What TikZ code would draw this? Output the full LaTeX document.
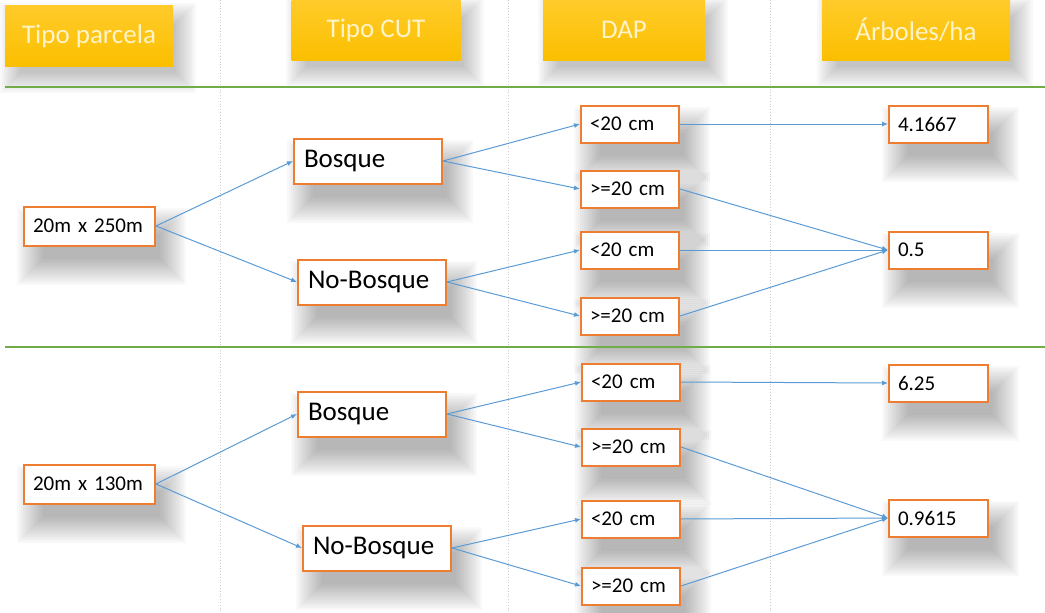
\documentclass[tikz,border=0pt]{standalone}
\usepackage{fontspec}
\setmainfont{Carlito}
\usetikzlibrary{arrows.meta,backgrounds}
\definecolor{borde}{HTML}{ED7D31}
\definecolor{flecha}{HTML}{5B9BD5}
\definecolor{verde}{HTML}{70AD47}
\definecolor{oro}{HTML}{FBBF00}
\definecolor{orotop}{HTML}{FFCB2A}
\definecolor{crema}{HTML}{FFF3C8}
\tikzstyle{titulo}=[top color=orotop,bottom color=oro,text=crema,font=\fontsize{27}{32}\selectfont,minimum height=61pt,inner sep=0pt]
\tikzstyle{caja}=[draw=borde,line width=2pt,fill=white,anchor=west,align=left,inner ysep=0pt]
\tikzstyle{parcela}=[caja,font=\fontsize{21}{25}\selectfont,text width=113pt,inner xsep=9pt,minimum height=39pt]
\tikzstyle{cut}=[caja,font=\fontsize{27}{32}\selectfont,text width=128pt,inner xsep=10pt,minimum height=45pt]
\tikzstyle{dap}=[caja,font=\fontsize{21}{25}\selectfont,text width=80pt,inner xsep=9pt,minimum height=37pt]
\tikzstyle{arb}=[dap,text width=81pt]
\tikzstyle{flechita}=[draw=flecha,line width=1pt,-{Latex[length=6pt,width=5pt]}]
\tikzstyle{guia}=[gray!40,dotted,line width=0.8pt]
\tikzstyle{franja}=[verde,line width=2pt]
\tikzstyle{sombra}=[black,opacity=0.024]

\begin{document}
\begin{tikzpicture}[x=1pt,y=-1pt]
    \useasboundingbox (0,0) rectangle (1045,613);
    \draw [franja] (5,87) -- (1045,87);
    \draw [franja] (5,347) -- (1045,347);

    \node [titulo,minimum width=168pt] (h1) at (89,36) {Tipo parcela};
    \node [titulo,minimum width=169pt] (h2) at (376,30) {Tipo CUT};
    \node [titulo,minimum width=162pt] (h3) at (624,30) {DAP};
    \node [titulo,minimum width=188pt] (h4) at (916,30) {Árboles/ha};

    \node [parcela] (p1) at (23,226) {20m x 250m};
    \node [cut] (b1) at (293,161) {Bosque};
    \node [cut] (n1) at (297,282) {No-Bosque};
    \node [dap] (d1) at (580,124) {<20 cm};
    \node [dap] (d2) at (580,189) {>=20 cm};
    \node [dap] (d3) at (580,250) {<20 cm};
    \node [dap] (d4) at (580,316) {>=20 cm};
    \node [arb] (r1) at (888,124) {4.1667};
    \node [arb] (r2) at (888,250) {0.5};

    \node [parcela] (p2) at (23,484) {20m x 130m};
    \node [cut] (b2) at (297,414) {Bosque};
    \node [cut] (n2) at (302,548) {No-Bosque};
    \node [dap] (d5) at (581,382) {<20 cm};
    \node [dap] (d6) at (581,447) {>=20 cm};
    \node [dap] (d7) at (581,519) {<20 cm};
    \node [dap] (d8) at (581,586) {>=20 cm};
    \node [arb] (r3) at (888,383) {6.25};
    \node [arb] (r4) at (888,518) {0.9615};

    \begin{scope}[on background layer]
      \draw [guia] (220,0) -- (220,613);
      \draw [guia] (508,0) -- (508,613);
      \draw [guia] (770,0) -- (770,613);
      \foreach \n in {h1,h2,h3,h4}
        \foreach \e in {14,12,...,-6}
          \fill [sombra] ([xshift={(9-\e)*1pt},yshift={(-12-\e)*1pt}]\n.south west)
            rectangle ([xshift={(9+\e)*1pt},yshift={(-12+\e)*1pt}]\n.north east);
      \foreach \n in {p1,b1,n1,d1,d2,d3,d4,r1,r2,p2,b2,n2,d5,d6,d7,d8,r3,r4}
        \foreach \e in {18,16,...,-8}
          \fill [sombra] ([xshift={(12-\e)*1pt},yshift={(-20-\e)*1pt}]\n.south west)
            rectangle ([xshift={(12+\e)*1pt},yshift={(-20+\e)*1pt}]\n.north east);
    \end{scope}

    \foreach \a/\b in {p1/b1,p1/n1,b1/d1,b1/d2,n1/d3,n1/d4,d1/r1,d2/r2,d3/r2,d4/r2,
                       p2/b2,p2/n2,b2/d5,b2/d6,n2/d7,n2/d8,d5/r3,d6/r4,d7/r4,d8/r4}
      \draw [flechita] (\a.east) -- (\b.west);
\end{tikzpicture}
\end{document}
